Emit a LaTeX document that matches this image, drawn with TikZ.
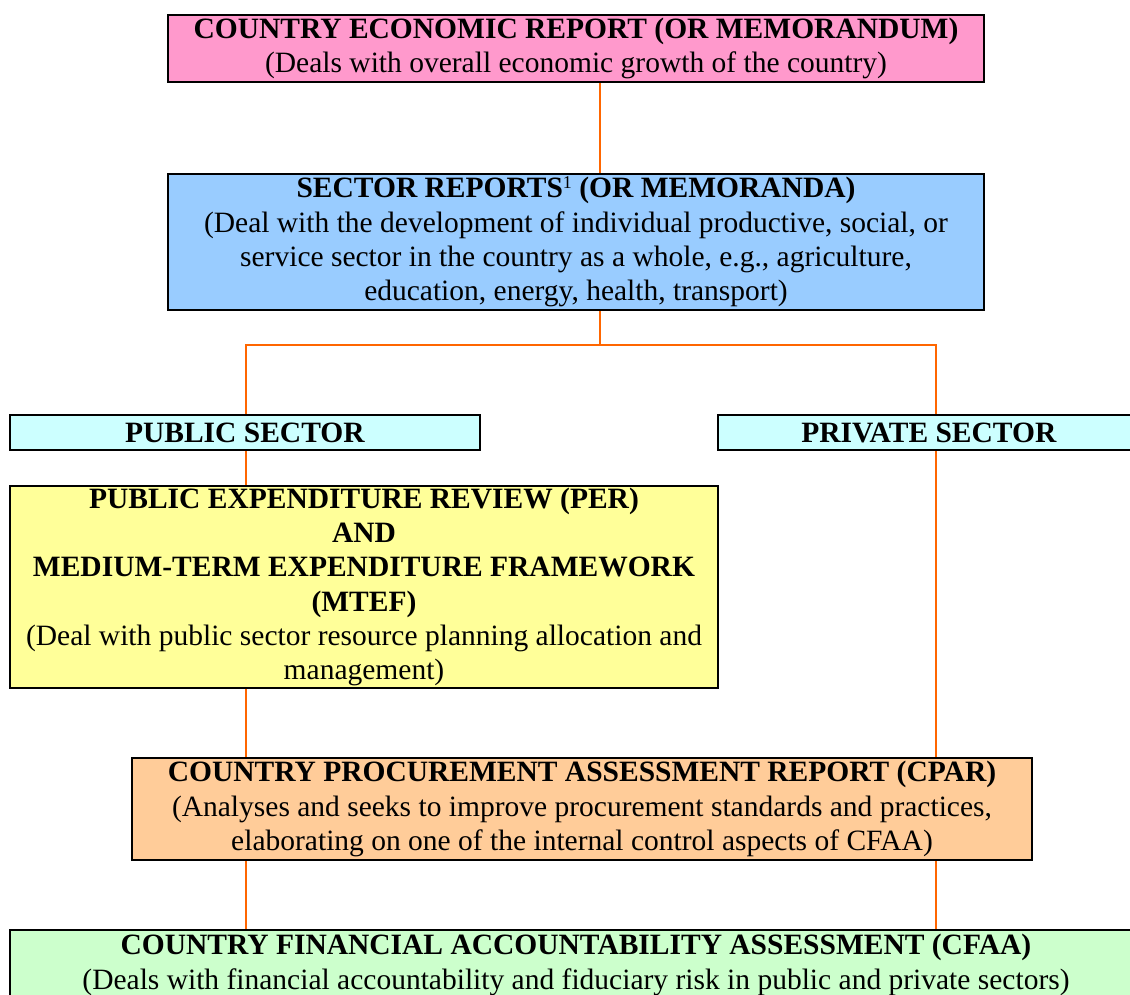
\documentclass[tikz,border=0pt]{standalone}
\usepackage{fontspec}
\setmainfont{Liberation Serif}
\definecolor{pinkfill}{HTML}{FF99CC}
\definecolor{bluefill}{HTML}{99CCFF}
\definecolor{cyanfill}{HTML}{CCFFFF}
\definecolor{yellowfill}{HTML}{FFFF99}
\definecolor{orangefill}{HTML}{FFCC99}
\definecolor{greenfill}{HTML}{CCFFCC}
\definecolor{linkcolor}{HTML}{FF6600}
\begin{document}
\begin{tikzpicture}[x=1pt,y=1pt,
  box/.style={draw=black,line width=2.4pt,rectangle,inner sep=0pt,align=center,
    font=\fontsize{29.5}{34.2}\selectfont},
  link/.style={draw=linkcolor,line width=1.4pt}]
\useasboundingbox (0,0) rectangle (1130,-994);
\clip (0,0) rectangle (1130,-994);

% report boxes, top to bottom
\node[box,fill=pinkfill,minimum width=816,minimum height=67] (cer) at (576,-48.5)
  {\textbf{COUNTRY ECONOMIC REPORT (OR MEMORANDUM)}\\(Deals with overall economic growth of the country)};
\node[box,fill=bluefill,minimum width=816,minimum height=136] (sector) at (576,-242)
  {\textbf{SECTOR REPORTS\raisebox{9pt}{\mdseries\fontsize{18}{18}\selectfont 1} (OR MEMORANDA)}\\(Deal with the development of individual productive, social, or\\service sector in the country as a whole, e.g., agriculture,\\education, energy, health, transport)};
\node[box,fill=cyanfill,minimum width=470,minimum height=35] (public) at (245,-432.5)
  {\textbf{PUBLIC SECTOR}};
\node[box,fill=cyanfill,minimum width=422,minimum height=35] (private) at (929,-432.5)
  {\textbf{PRIVATE SECTOR}};
\node[box,fill=yellowfill,minimum width=708,minimum height=202] (per) at (364,-587)
  {\textbf{PUBLIC EXPENDITURE REVIEW (PER)}\\\textbf{AND}\\\textbf{MEDIUM-TERM EXPENDITURE FRAMEWORK}\\\textbf{(MTEF)}\\(Deal with public sector resource planning allocation and\\management)};
\node[box,fill=orangefill,minimum width=900,minimum height=102] (cpar) at (582,-809)
  {\textbf{COUNTRY PROCUREMENT ASSESSMENT REPORT (CPAR)}\\(Analyses and seeks to improve procurement standards and practices,\\elaborating on one of the internal control aspects of CFAA)};
\node[box,fill=greenfill,minimum width=1132,minimum height=70] (cfaa) at (576,-965)
  {\textbf{COUNTRY FINANCIAL ACCOUNTABILITY ASSESSMENT (CFAA)}\\(Deals with financial accountability and fiduciary risk in public and private sectors)};

% connector columns
\coordinate (mcol) at (600,0);
\coordinate (lcol) at (246,-345);
\coordinate (rcol) at (936,-345);

\draw[link] (mcol |- cer.south) -- (mcol |- sector.north);
\draw[link] (mcol |- sector.south) |- (lcol) -- (lcol |- public.north);
\draw[link] (mcol |- sector.south) |- (rcol) -- (rcol |- private.north);
\draw[link] (lcol |- public.south) -- (lcol |- per.north);
\draw[link] (lcol |- per.south) -- (lcol |- cpar.north);
\draw[link] (rcol |- private.south) -- (rcol |- cpar.north);
\draw[link] (lcol |- cpar.south) -- (lcol |- cfaa.north);
\draw[link] (rcol |- cpar.south) -- (rcol |- cfaa.north);
\end{tikzpicture}
\end{document}
